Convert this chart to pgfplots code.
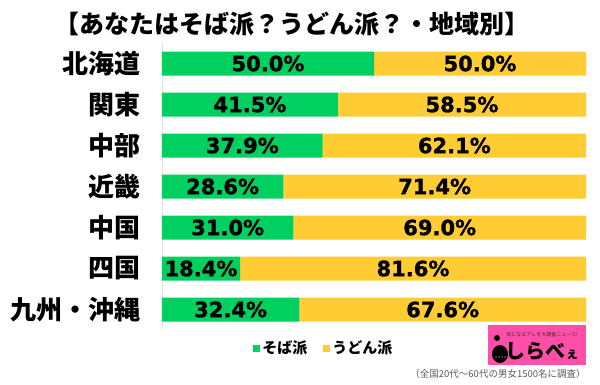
\documentclass[border=0pt]{standalone}
\usepackage{pgfplots}
\pgfplotsset{compat=1.18}
\usepackage{fontspec}
\setmainfont{Noto Sans CJK JP}
\newfontfamily\jpb{Noto Sans CJK JP Black}
\newfontfamily\num{DejaVu Sans Bold}[FakeBold=1.2]
\definecolor{soba}{RGB}{0,208,96}
\definecolor{udon}{RGB}{255,204,51}
\definecolor{logopink}{RGB}{255,79,168}
\begin{document}
\begin{tikzpicture}[x=1pt,y=1pt]
\path[use as bounding box] (0,0) rectangle (600,384);
\node[font=\jpb\fontsize{25}{26}\selectfont] at (292,360) {【あなたはそば派？うどん派？・地域別】};
\begin{axis}[
  at={(162pt,54pt)}, anchor=south west, scale only axis,
  width=424pt, height=287pt,
  xmin=0, xmax=100, ymin=-0.5, ymax=6.5, y dir=reverse,
  xbar stacked, bar width=24pt,
  hide x axis, axis y line*=left,
  y axis line style={draw=gray!20, line width=0.8pt},
  ytick={0,1,2,3,4,5,6},
  yticklabels={北海道,関東,中部,近畿,中国,四国,九州・沖縄},
  ytick style={draw=none},
  yticklabel style={font=\jpb\fontsize{26}{28}\selectfont, anchor=east, xshift=-18pt},
  legend style={at={(0.382,-0.063)}, anchor=center, legend columns=2, draw=none, fill=none,
    font=\jpb\fontsize{15}{16}\selectfont,
    /tikz/every even column/.append style={column sep=14pt}},
  legend image code/.code={\fill[#1] (0pt,-3.5pt) rectangle (7pt,3.5pt);},
  clip=false,
]
\addplot[fill=soba, draw=none] coordinates {(50.0,0) (41.5,1) (37.9,2) (28.6,3) (31.0,4) (18.4,5) (32.4,6)};
\addlegendentry{そば派}
\addplot[fill=udon, draw=none] coordinates {(50.0,0) (58.5,1) (62.1,2) (71.4,3) (69.0,4) (81.6,5) (67.6,6)};
\addlegendentry{うどん派}
\end{axis}
\begin{axis}[
  at={(162pt,54pt)}, anchor=south west, scale only axis,
  width=424pt, height=287pt,
  xmin=0, xmax=100, ymin=-0.5, ymax=6.5, y dir=reverse,
  hide axis, clip=false,
  nodes near coords, point meta=explicit symbolic,
  every node near coord/.style={anchor=center, font=\num\fontsize{21}{22}\selectfont, text=black},
]
\addplot[draw=none, mark=none] coordinates {
 (25.0,0) [50.0\%] (20.75,1) [41.5\%] (18.95,2) [37.9\%] (14.3,3) [28.6\%]
 (15.5,4) [31.0\%] (9.2,5) [18.4\%] (16.2,6) [32.4\%]
 (75.0,0) [50.0\%] (70.75,1) [58.5\%] (68.95,2) [62.1\%] (64.3,3) [71.4\%]
 (65.5,4) [69.0\%] (59.2,5) [81.6\%] (66.2,6) [67.6\%]};
\end{axis}
% logo
\fill[logopink] (488,19) rectangle (586,59);
\node[font=\fontsize{5}{6}\selectfont, text=black!80] at (542,49) {気になるアレを大調査ニュース!};
\fill[black] (497,46) circle (3);
\fill[black] (500,30) ellipse (8 and 9);
\foreach \xx in {496,499,502,505} \fill[white] (\xx,27) circle (0.7);
\node[font=\jpb\fontsize{20}{22}\selectfont] at (542,33) {しらべ\fontsize{13}{14}\selectfont ぇ};
\node[font=\fontsize{9.5}{11}\selectfont, text=black!65] at (498,10) {（全国20代～60代の男女1500名に調査）};
\end{tikzpicture}
\end{document}
